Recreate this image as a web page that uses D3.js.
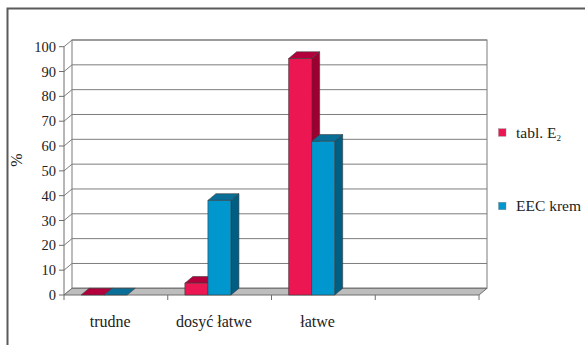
<!DOCTYPE html>
<html>
<head>
<meta charset="utf-8">
<script src="https://cdn.jsdelivr.net/npm/d3@7"></script>
<style>
  html, body { margin: 0; padding: 0; background: #fff; overflow: hidden; }
  svg { display: block; }
</style>
</head>
<body>
<svg id="chart" width="585" height="345"></svg>
<script>
// Categories (the last slot on the axis is left empty)
const categories = ["trudne", "dosyć łatwe", "łatwe", ""];
// Series values in percent
const seriesNames = ["tabl. E", "EEC krem"];
const tablE2 = [0, 4.76, 95.24, null];
const eecKrem = [0, 38.1, 61.9, null];
const yTicks = [0, 10, 20, 30, 40, 50, 60, 70, 80, 90, 100];

const colors = [
  { front: "#EC1752", top: "#B3003D", side: "#9A0030" },
  { front: "#0096CE", top: "#0A6F98", side: "#005E83" }
];

const FONT = "'Liberation Serif', 'DejaVu Serif', 'Times New Roman', serif";

const svg = d3.select("#chart")
  .attr("font-family", FONT);

// Oblique 3D projection: depth shifts points right and up
const DX = 8, DY = -6.7;
const y = d3.scaleLinear().domain([0, 100]).range([295, 46.7]);
const x = d3.scaleBand().domain(categories).range([64, 479]).padding(0);
const bw = x.bandwidth();
const barOffset = bw * 0.165;
const barW = bw * 0.222;

// Outer frame
svg.append("rect")
  .attr("x", 7.5).attr("y", 8.5).attr("width", 700).attr("height", 500)
  .attr("fill", "none").attr("stroke", "#5a5a5a").attr("stroke-width", 2);

const x0 = x.range()[0], x1 = x.range()[1];
const y0 = y(0), yTop = y(100);

// Back wall
svg.append("rect")
  .attr("x", x0 + DX).attr("y", yTop + DY)
  .attr("width", x1 - x0).attr("height", y0 - yTop)
  .attr("fill", "#fff").attr("stroke", "#7a7a7a").attr("stroke-width", 1);

// Gridlines on back wall and side wall
const grid = svg.append("g").attr("stroke", "#7d7d7d").attr("stroke-width", 1).attr("fill", "none");
yTicks.forEach(t => {
  const yf = y(t);
  grid.append("path").attr("d",
    `M${x0},${yf} L${x0 + DX},${yf + DY} L${x1 + DX},${yf + DY}`);
});

// Floor
svg.append("path")
  .attr("d", `M${x0},${y0} L${x0 + DX},${y0 + DY} L${x1 + DX},${y0 + DY} L${x1},${y0} Z`)
  .attr("fill", "#bdbdbd").attr("stroke", "#6e6e6e").attr("stroke-width", 1);

// Front value axis
const axisG = svg.append("g").attr("stroke", "#6e6e6e").attr("stroke-width", 1);
axisG.append("line").attr("x1", x0).attr("x2", x0).attr("y1", y(100)).attr("y2", y0);
yTicks.forEach(t => {
  axisG.append("line").attr("x1", x0 - 5).attr("x2", x0).attr("y1", y(t)).attr("y2", y(t));
});
svg.append("g").selectAll("text").data(yTicks).join("text")
  .attr("x", x0 - 8).attr("y", d => y(d))
  .attr("dy", "0.35em").attr("text-anchor", "end")
  .attr("font-family", FONT).attr("fill", "#222")
  .attr("font-size", 14.5).text(d => d);

// Category axis ticks
const catTicks = categories.map(c => x(c)).concat([x1]);
catTicks.forEach((cx, i) => {
  if (i === 0) return;
  axisG.append("line").attr("x1", cx).attr("x2", cx).attr("y1", y0).attr("y2", y0 + 5);
});
axisG.append("line").attr("x1", x0).attr("x2", x0).attr("y1", y0).attr("y2", y0 + 5);

// Category labels, centred under each bar group
svg.append("g").selectAll("text").data(categories).join("text")
  .attr("x", d => x(d) + barOffset + barW + DX / 2 + 2)
  .attr("y", 327)
  .attr("text-anchor", "middle").attr("font-size", 16)
  .attr("font-family", FONT).attr("fill", "#222")
  .text(d => d);

// Bars
const series = [tablE2, eecKrem];
const barsG = svg.append("g").attr("stroke", "#3a3a3a").attr("stroke-width", 0.6).attr("stroke-linejoin", "round");
categories.forEach((c, ci) => {
  series.forEach((vals, si) => {
    const v = vals[ci];
    if (v === null || v === undefined) return;
    const bx = x(c) + barOffset + si * barW;
    const bx2 = bx + barW;
    const yt = y(v);
    const col = colors[si];
    // side face
    if (v > 0) {
      barsG.append("path")
        .attr("d", `M${bx2},${y0} L${bx2 + DX},${y0 + DY} L${bx2 + DX},${yt + DY} L${bx2},${yt} Z`)
        .attr("fill", col.side);
    }
    // top face
    barsG.append("path")
      .attr("d", `M${bx},${yt} L${bx + DX},${yt + DY} L${bx2 + DX},${yt + DY} L${bx2},${yt} Z`)
      .attr("fill", col.top);
    // front face
    if (v > 0) {
      barsG.append("rect")
        .attr("x", bx).attr("y", yt).attr("width", barW).attr("height", y0 - yt)
        .attr("fill", col.front);
    }
  });
});

// Y axis title
svg.append("text")
  .attr("transform", "translate(22,160) rotate(-90)")
  .attr("text-anchor", "middle").attr("font-size", 16)
  .attr("font-family", FONT).attr("fill", "#222")
  .text("%");

// Legend
const legendY = [132.5, 206];
const legend = svg.append("g");
seriesNames.forEach((name, i) => {
  legend.append("rect")
    .attr("x", 498.5).attr("y", legendY[i] - 3.75)
    .attr("width", 7.5).attr("height", 7.5)
    .attr("fill", colors[i].front).attr("stroke", "#888").attr("stroke-width", 0.4);
  const t = legend.append("text")
    .attr("x", 516).attr("y", legendY[i]).attr("dy", "0.35em")
    .attr("font-family", FONT).attr("fill", "#222")
    .attr("font-size", 15.5).text(name);
  if (i === 0) {
    t.append("tspan").attr("font-size", 9).attr("dy", 3).text("2");
  }
});
</script>
</body>
</html>
